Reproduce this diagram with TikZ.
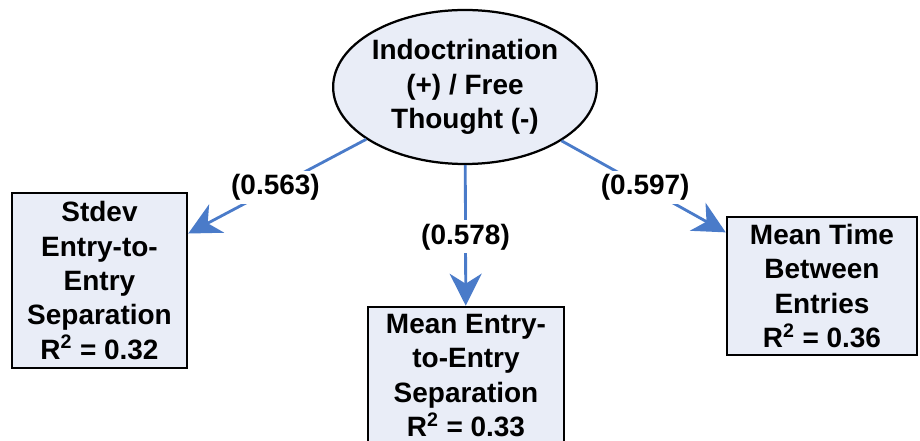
\documentclass[tikz,border=0pt]{standalone}
\usepackage{fontspec}
\setmainfont{Liberation Sans}
\usepackage{xcolor}
\usepackage{tikz}
\usetikzlibrary{shapes.geometric,arrows.meta}
\definecolor{pathblue}{HTML}{4A7BC9}
\definecolor{boxfill}{HTML}{E9EDF7}
\newcommand{\semfont}{\fontsize{19.9}{24.5}\selectfont\bfseries}
\tikzset{
  latent/.style={ellipse, draw=black, line width=1.6pt, fill=boxfill,
    minimum width=6.1cm, minimum height=3.85cm, inner sep=0pt, align=center, font=\semfont},
  measure/.style={rectangle, draw=black, line width=1.8pt, fill=boxfill,
    inner sep=0pt, align=center, font=\semfont},
  loading/.style={draw=pathblue, line width=2pt,
    -{Stealth[length=0.8cm, width=0.8cm, inset=0.25cm]}},
  coef/.style={fill=white, inner sep=2.5pt, font=\semfont},
}

\begin{document}
\begin{tikzpicture}
  \useasboundingbox (0,0) rectangle (23,11.025);

  \node[latent] (ind) at (11.625,8.85) {Indoctrination\\(+) / Free\\Thought (-)};

  \node[measure, minimum width=4.375cm, minimum height=4.375cm] (sd) at (2.4875,4.0125)
    {Stdev\\Entry-to-\\Entry\\Separation\\R\textsuperscript{2} = 0.32};
  \node[measure, minimum width=4.9cm, minimum height=3.425cm] (mean) at (11.65,1.6375)
    {Mean Entry-\\to-Entry\\Separation\\R\textsuperscript{2} = 0.33};
  \node[measure, minimum width=4.75cm, minimum height=3.45cm] (time) at (20.55,3.875)
    {Mean Time\\Between\\Entries\\R\textsuperscript{2} = 0.36};

  % path coefficients sit on the arrows
  \draw[loading] (ind) -- node[coef, pos=0.51] {(0.563)} (sd);
  \draw[loading] (ind) -- node[coef, pos=0.51] {(0.578)} (mean);
  \draw[loading] (ind) -- node[coef, pos=0.51] {(0.597)} (time);
\end{tikzpicture}
\end{document}
